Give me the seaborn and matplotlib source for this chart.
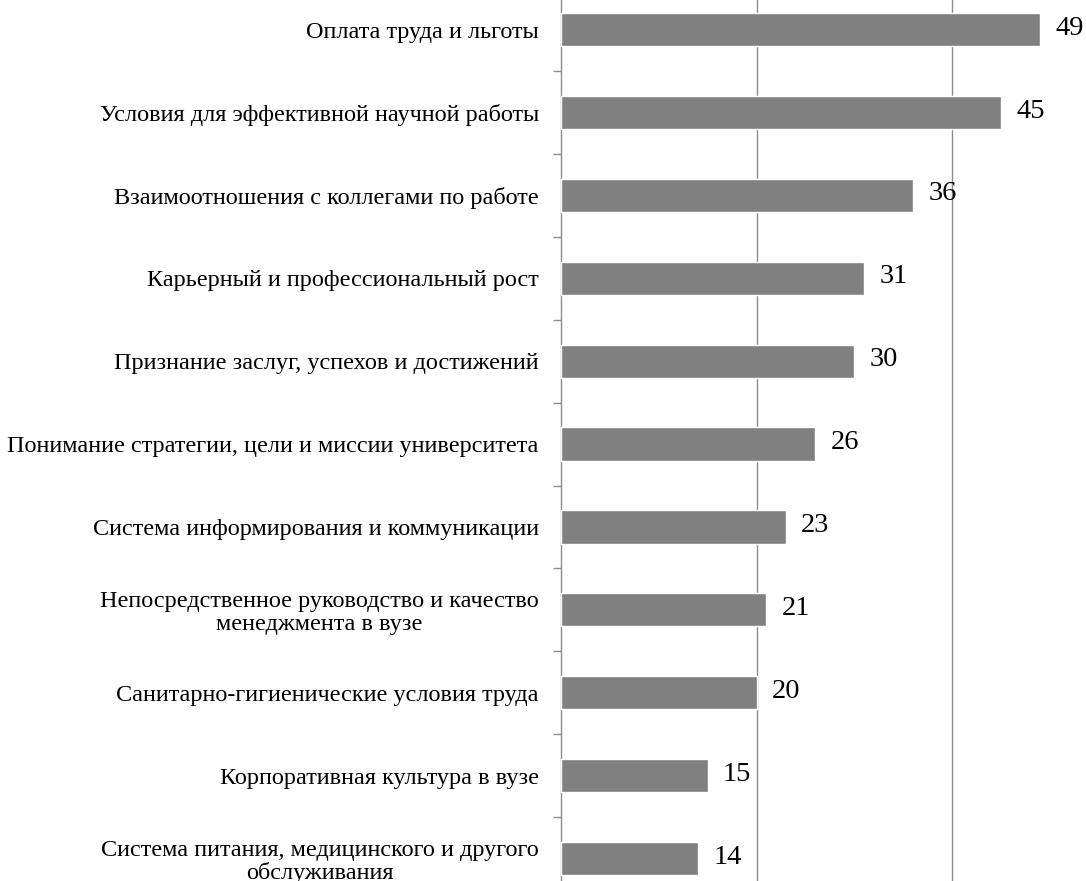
import matplotlib
matplotlib.use("Agg")
import matplotlib.pyplot as plt
import seaborn as sns
import pandas as pd
from matplotlib.ticker import FixedLocator

# Factors and their shares (%)
categories = [
    "Оплата труда и льготы",
    "Условия для эффективной научной работы",
    "Взаимоотношения с коллегами по работе",
    "Карьерный и профессиональный рост",
    "Признание заслуг, успехов и достижений",
    "Понимание стратегии, цели и миссии университета",
    "Система информирования и коммуникации",
    "Непосредственное руководство и качество\nменеджмента в вузе",
    "Санитарно-гигиенические условия труда",
    "Корпоративная культура в вузе",
    "Система питания, медицинского и другого\nобслуживания",
]
values = [49, 45, 36, 31, 30, 26, 23, 21, 20, 15, 14]
grid_positions = [20, 40]

df = pd.DataFrame({"factor": categories, "share": values})

sns.set_theme(style="white")
plt.rcParams["font.family"] = ["Liberation Serif", "DejaVu Serif"]

W, H, DPI = 1086, 881, 100
fig = plt.figure(figsize=(W / DPI, H / DPI), dpi=DPI)
fig.patch.set_facecolor("white")
ax = fig.add_axes([561 / W, 0, (W - 561) / W, 1])

sns.barplot(data=df, x="share", y="factor", orient="h", color="#808080",
            saturation=1, width=0.4, ax=ax, zorder=3)

ax.set_xlim(0, 53.7)
ax.set_ylim(10.27, -0.356)
ax.set_xlabel("")
ax.set_ylabel("")

# vertical grid lines
ax.set_xticks(grid_positions)
ax.tick_params(axis="x", length=0, labelbottom=False)
ax.grid(axis="x", color="#8c8c8c", linewidth=1.0, zorder=0)
ax.grid(axis="y", visible=False)

for side in ["top", "right", "bottom"]:
    ax.spines[side].set_visible(False)
ax.spines["left"].set_color("#8c8c8c")
ax.spines["left"].set_linewidth(1.0)

# category labels at bar centres, tick marks between categories
ax.tick_params(axis="y", which="major", length=0, pad=16, labelsize=17.5,
               labelcolor="black")
for lbl in ax.get_yticklabels():
    lbl.set_multialignment("center")
    lbl.set_linespacing(1.1)
ax.yaxis.set_minor_locator(FixedLocator([i + 0.5 for i in range(len(categories) - 1)]))
ax.tick_params(axis="y", which="minor", length=5.5, width=1.0, color="#8c8c8c",
               left=True, direction="out")

# value labels
for i, v in enumerate(values):
    ax.annotate(f"{v}", xy=(v, i), xytext=(11, 1), textcoords="offset points",
                ha="left", va="center", fontsize=20.5, color="black",
                annotation_clip=False)

fig.savefig("out.png", dpi=DPI)
